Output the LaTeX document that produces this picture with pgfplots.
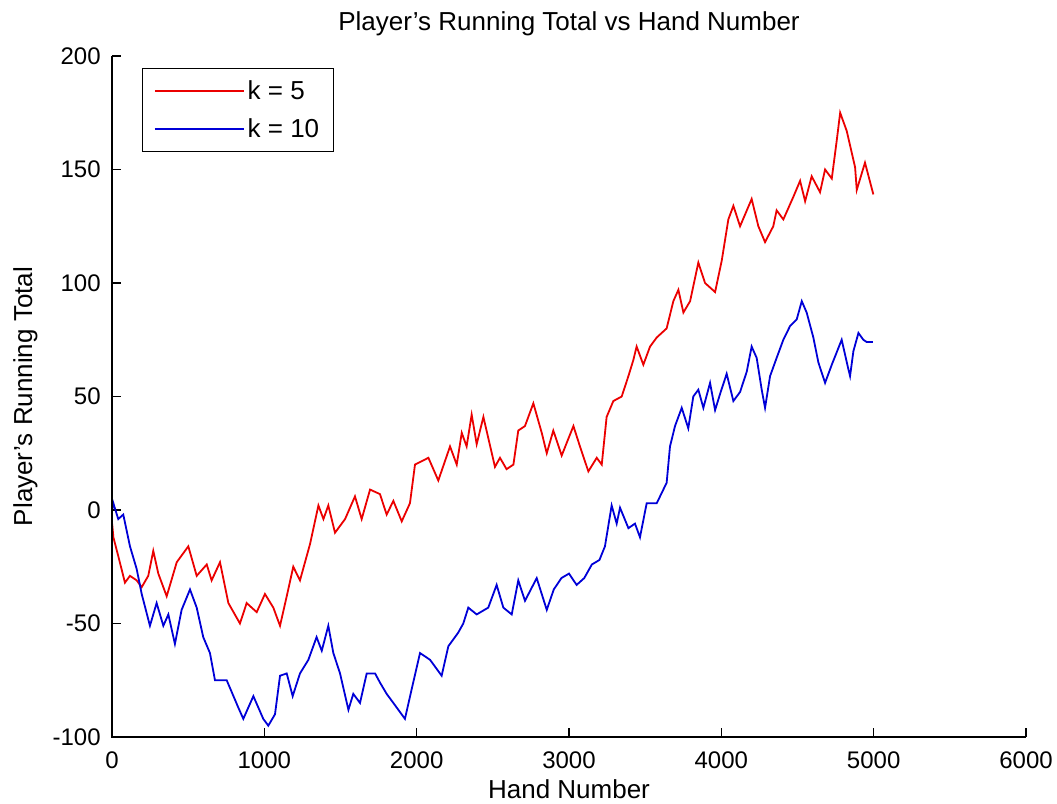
\documentclass[border=0pt]{standalone}
\usepackage{fontspec}
\setmainfont{Liberation Sans}
\usepackage{pgfplots}
\pgfplotsset{compat=1.18}
\definecolor{mred}{RGB}{235,0,0}
\definecolor{mblue}{RGB}{0,0,215}
\begin{document}
\begin{tikzpicture}
\begin{axis}[
  name=ax,
  scale only axis,
  width=685.5pt, height=510.75pt,
  xmin=0, xmax=6000, ymin=-100, ymax=200,
  xtick={0,1000,2000,3000,4000,5000,6000},
  ytick={-100,-50,0,50,100,150,200},
  axis line style={draw=none},
  xtick pos=left, ytick pos=left,
  tick align=inside,
  major tick length=6.75pt,
  tick style={black, line width=0.8pt},
  /pgf/number format/assume math mode=true,
  /pgf/number format/1000 sep={},
  ticklabel style={font=\fontsize{18}{20}\selectfont},
  yticklabel style={xshift=-5pt},
  xticklabel style={yshift=-7.25pt},
  title={Player's Running Total vs Hand Number},
  title style={at={(axis description cs:0.5,1.025)}, anchor=base, font=\fontsize{19.5}{22}\selectfont},
  xlabel={Hand Number},
  xlabel style={at={(axis description cs:0.5,-0.091)}, anchor=base, font=\fontsize{19.5}{22}\selectfont},
  ylabel={Player's Running Total},
  ylabel style={at={(axis description cs:-0.0875,0.5)}, anchor=base, font=\fontsize{19.5}{22}\selectfont},
  legend cell align=left,
  legend image code/.code={\draw[#1, line width=0.9pt] (0pt,0pt) -- (61.5pt,0pt); \path (0pt,0pt) -- (67pt,0pt);},
  legend style={at={(axis description cs:0.0328,0.982)}, anchor=north west,
    draw=black, line width=0.8pt, inner xsep=8.5pt, inner ysep=7pt, row sep=8.5pt,
    font=\fontsize{19.5}{22}\selectfont, nodes={inner sep=2pt}},
]
\addplot[mred, line width=1.35pt] coordinates {
(1,-6) (9,-12) (40,-20) (85,-32) (118,-29) (162,-31) (195,-34) (238,-29) (271,-18) (304,-28)
(359,-38) (425,-23) (501,-16) (556,-29) (622,-24) (654,-31) (709,-23) (764,-41) (840,-50) (884,-41)
(950,-45) (1004,-37) (1059,-43) (1103,-51) (1147,-38) (1190,-25) (1234,-31) (1300,-15) (1355,2) (1388,-4)
(1420,2) (1464,-10) (1530,-4) (1595,6) (1639,-4) (1694,9) (1759,7) (1803,-2) (1847,4) (1902,-5)
(1956,3) (1989,20) (2077,23) (2142,13) (2219,28) (2263,20) (2296,34) (2328,28) (2361,42) (2394,29)
(2438,41) (2514,19) (2547,23) (2590,18) (2635,20) (2667,35) (2711,37) (2766,47) (2821,34) (2854,25)
(2897,35) (2952,24) (3029,37) (3072,28) (3127,17) (3182,23) (3215,20) (3247,41) (3291,48) (3346,50)
(3390,59) (3422,66) (3444,72) (3488,64) (3532,72) (3576,76) (3641,80) (3685,92) (3718,97) (3751,87)
(3795,92) (3849,109) (3893,100) (3959,96) (4003,110) (4046,128) (4079,134) (4123,125) (4199,137) (4243,125)
(4287,118) (4341,125) (4363,132) (4407,128) (4473,138) (4517,145) (4550,136) (4593,147) (4648,140) (4681,150)
(4725,146) (4758,163) (4780,175) (4823,167) (4878,151) (4889,141) (4943,153) (4998,139)
};
\addlegendentry{k = 5}
\addplot[mblue, line width=1.35pt] coordinates {
(1,0) (9,3) (41,-4) (74,-2) (118,-16) (162,-26) (195,-37) (249,-51) (293,-41) (337,-51)
(370,-46) (413,-59) (457,-44) (512,-35) (556,-43) (599,-56) (643,-63) (676,-75) (753,-75) (829,-87)
(862,-92) (928,-82) (993,-92) (1026,-95) (1070,-90) (1103,-73) (1147,-72) (1186,-82) (1234,-72) (1289,-66)
(1343,-56) (1377,-62) (1420,-51) (1453,-63) (1497,-72) (1552,-88) (1584,-81) (1628,-85) (1672,-72) (1727,-72)
(1759,-76) (1803,-81) (1847,-85) (1923,-92) (1967,-79) (2022,-63) (2088,-66) (2164,-73) (2208,-60) (2273,-54)
(2306,-50) (2339,-43) (2394,-46) (2470,-43) (2525,-33) (2569,-43) (2624,-46) (2667,-31) (2711,-40) (2788,-30)
(2854,-44) (2900,-35) (2950,-30) (3000,-28) (3050,-33) (3100,-30) (3150,-24) (3200,-22) (3236,-16) (3280,2)
(3313,-6) (3335,1) (3390,-8) (3433,-6) (3466,-12) (3510,3) (3576,3) (3641,12) (3663,28) (3696,37)
(3740,45) (3783,36) (3816,50) (3849,53) (3882,45) (3926,56) (3959,44) (3991,51) (4035,60) (4079,48)
(4123,52) (4167,61) (4199,72) (4232,67) (4265,53) (4287,45) (4320,59) (4363,67) (4407,75) (4451,81)
(4495,84) (4528,92) (4560,87) (4604,76) (4637,65) (4681,56) (4725,64) (4790,75) (4834,62) (4845,59)
(4867,70) (4900,78) (4932,75) (4954,74) (4995,74)
};
\addlegendentry{k = 10}
\end{axis}
\draw[black, line width=0.8pt] (ax.north west) -- (ax.south west) -- (ax.south east);
\pgfresetboundingbox
\path[use as bounding box] ([xshift=-84pt,yshift=-49.5pt]ax.south west) rectangle ([xshift=23.25pt,yshift=42pt]ax.north east);
\end{tikzpicture}
\end{document}
